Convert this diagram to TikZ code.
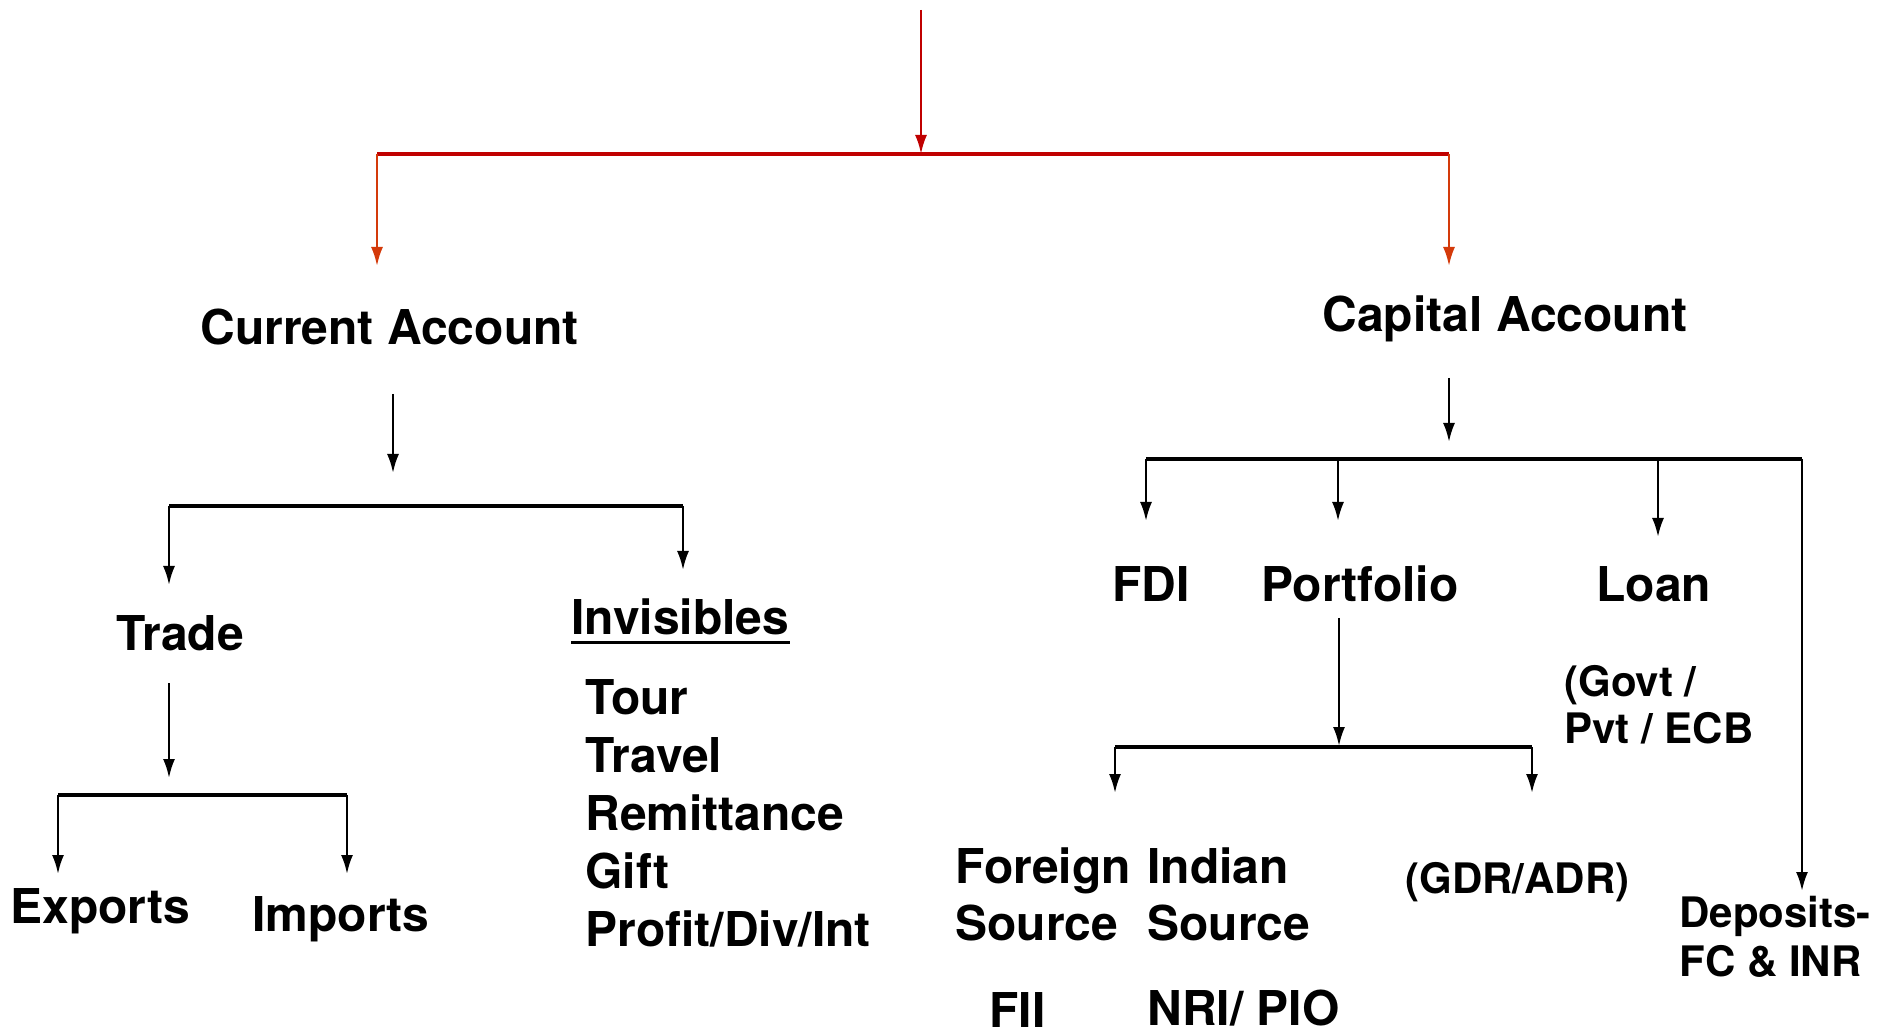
\documentclass[tikz,border=0pt]{standalone}
\usepackage{fontspec}
\setmainfont{TeX Gyre Heros}
\usetikzlibrary{arrows.meta}
\definecolor{darkred}{HTML}{C00000}
\definecolor{orred}{HTML}{D43A0A}
\begin{document}
\begin{tikzpicture}[x=0.5pt,y=-0.5pt,
  lbl/.style={anchor=base west, inner sep=0pt, xshift=-1.5pt, font=\bfseries\fontsize{24pt}{29pt}\selectfont},
  lbls/.style={anchor=base west, inner sep=0pt, xshift=-1.5pt, font=\bfseries\fontsize{21pt}{24pt}\selectfont},
  arr/.style={line width=1.2pt, -{Latex[length=9.5pt,width=6pt]}},
  bar/.style={line width=1.6pt},
]
\useasboundingbox[fill=white] (0,0) rectangle (1890,1031);

% labels
\node[lbl] (cur) at (203,345) {Current Account};
\node[lbl] (cap) at (1325,332) {Capital Account};
\node[lbl] (trade) at (119,650) {Trade};
\node[lbl] (inv) at (574,634) {Invisibles};
\draw[line width=1.5pt] ([yshift=-4.5pt]inv.base west) -- ([yshift=-4.5pt]inv.base east);
\node[lbl] (invlist) at (588,714) {\vtop{\baselineskip=29pt\hbox{Tour}\hbox{Travel}\hbox{Remittance}\hbox{Gift}\hbox{Profit/Div/Int}}};
\node[lbl] (exp) at (13,923) {Exports};
\node[lbl] (imp) at (255,931) {Imports};
\node[lbl] (fdi) at (1115,602) {FDI};
\node[lbl] (port) at (1264,602) {Portfolio};
\node[lbl] (loan) at (1599,602) {Loan};
\node[lbls] (govt) at (1567,697) {\vtop{\baselineskip=23.5pt\hbox{(Govt /}\hbox{Pvt / ECB}}};
\node[lbl] (foreign) at (958,883) {\vtop{\baselineskip=28.5pt\hbox{Foreign}\hbox{Source}}};
\node[lbl] (indian) at (1150,883) {\vtop{\baselineskip=28.5pt\hbox{Indian}\hbox{Source}}};
\node[lbls] (gdr) at (1408,893) {(GDR/ADR)};
\node[lbls] (dep) at (1682,927) {\vtop{\baselineskip=24.5pt\hbox{Deposits-}\hbox{FC \& INR}}};
\node[lbl] (fii) at (992,1027) {FII};
\node[lbl] (nri) at (1150,1025) {NRI/ PIO};

% coordinates
\coordinate (top) at (921,10);
\coordinate (rsplit) at (921,154);
\coordinate (rl) at (377,154);
\coordinate (rr) at (1449,154);
\coordinate (rlt) at (377,266);
\coordinate (rrt) at (1449,266);

\coordinate (ca1) at (393,394);
\coordinate (ca2) at (393,473);
\coordinate (cl) at (169,506);
\coordinate (cr) at (683,506);
\coordinate (clt) at (169,585);
\coordinate (crt) at (683,570);
\coordinate (tr1) at (169,683);
\coordinate (tr2) at (169,778);
\coordinate (tl) at (58,795);
\coordinate (trr) at (347,795);
\coordinate (tlt) at (58,874);
\coordinate (trt) at (347,874);

\coordinate (cp1) at (1449,378);
\coordinate (cp2) at (1449,442);
\coordinate (k1) at (1146,459);
\coordinate (k2) at (1338,459);
\coordinate (k3) at (1658,459);
\coordinate (k4) at (1802,459);
\coordinate (k1t) at (1146,521);
\coordinate (k2t) at (1338,521);
\coordinate (k3t) at (1658,537);
\coordinate (k4t) at (1802,891);
\coordinate (p1) at (1339,618);
\coordinate (p2) at (1339,746);
\coordinate (pl) at (1115,747);
\coordinate (pr) at (1532,747);
\coordinate (plt) at (1115,793);
\coordinate (prt) at (1532,793);

% red connectors
\draw[arr, darkred] (top) -- (rsplit);
\draw[bar, darkred] (rl) -- (rr);
\draw[arr, orred] (rl) -- (rlt);
\draw[arr, orred] (rr) -- (rrt);

% current account
\draw[arr] (ca1) -- (ca2);
\draw[bar] (cl) -- (cr);
\draw[arr] (cl) -- (clt);
\draw[arr] (cr) -- (crt);
\draw[arr] (tr1) -- (tr2);
\draw[bar] (tl) -- (trr);
\draw[arr] (tl) -- (tlt);
\draw[arr] (trr) -- (trt);

% capital account
\draw[arr] (cp1) -- (cp2);
\draw[bar] (k1) -- (k4);
\draw[arr] (k1) -- (k1t);
\draw[arr] (k2) -- (k2t);
\draw[arr] (k3) -- (k3t);
\draw[arr] (k4) -- (k4t);
\draw[arr] (p1) -- (p2);
\draw[bar] (pl) -- (pr);
\draw[arr] (pl) -- (plt);
\draw[arr] (pr) -- (prt);
\end{tikzpicture}
\end{document}
